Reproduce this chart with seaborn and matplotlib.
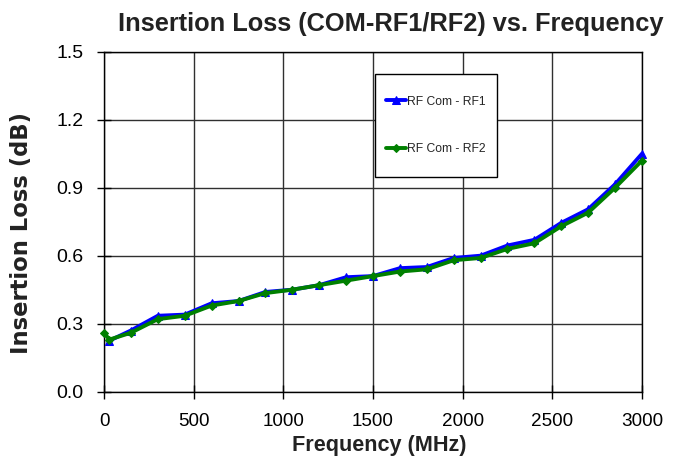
import matplotlib
matplotlib.use("Agg")
import matplotlib.pyplot as plt
from matplotlib.patches import Rectangle
import seaborn as sns
import pandas as pd

freq_rf1 = [30, 150, 300, 450, 600, 750, 900, 1050, 1200, 1350, 1500,
            1650, 1800, 1950, 2100, 2250, 2400, 2550, 2700, 2850, 3000]
loss_rf1 = [0.225, 0.27, 0.335, 0.34, 0.39, 0.40, 0.44, 0.45, 0.47, 0.505, 0.51,
            0.545, 0.55, 0.59, 0.60, 0.645, 0.67, 0.745, 0.805, 0.915, 1.05]
freq_rf2 = [0, 30, 150, 300, 450, 600, 750, 900, 1050, 1200, 1350, 1500,
            1650, 1800, 1950, 2100, 2250, 2400, 2550, 2700, 2850, 3000]
loss_rf2 = [0.26, 0.23, 0.26, 0.32, 0.335, 0.38, 0.40, 0.435, 0.45, 0.47, 0.49, 0.51,
            0.53, 0.54, 0.58, 0.59, 0.63, 0.655, 0.73, 0.79, 0.90, 1.02]
series_names = ["RF Com - RF1", "RF Com - RF2"]
x_ticks = [0, 500, 1000, 1500, 2000, 2500, 3000]
y_ticks = [0.0, 0.3, 0.6, 0.9, 1.2, 1.5]

sns.set_theme(style="white")
plt.rcParams["font.family"] = ["Liberation Sans", "DejaVu Sans"]

fig = plt.figure(figsize=(6.83, 4.68), dpi=100)
ax = fig.add_axes([104/683, 1 - 391.7/468, 538/683, 340/468])

df1 = pd.DataFrame({"f": freq_rf1, "v": loss_rf1})
df2 = pd.DataFrame({"f": freq_rf2, "v": loss_rf2})
sns.lineplot(data=df1, x="f", y="v", ax=ax, color="#0000FF", lw=2.8,
             marker="^", markersize=6, markeredgecolor="#0000FF",
             label=series_names[0], sort=False, errorbar=None, clip_on=False, zorder=3)
sns.lineplot(data=df2, x="f", y="v", ax=ax, color="#008000", lw=2.8,
             marker="D", markersize=4.5, markeredgecolor="#008000",
             label=series_names[1], sort=False, errorbar=None, clip_on=False, zorder=4)

ax.set_xlim(0, 3000)
ax.set_ylim(0, 1.5)
ax.set_xticks(x_ticks)
ax.set_yticks(y_ticks)
ax.set_xticklabels([str(t) for t in x_ticks], fontsize=13.6)
ax.set_yticklabels([f"{t:.1f}" for t in y_ticks], fontsize=14)
ax.grid(True, color="#303030", lw=1.0)
ax.set_axisbelow(True)
for s in ax.spines.values():
    s.set_color("black")
    s.set_linewidth(1.0)
ax.tick_params(axis="both", which="major", direction="inout", length=9.5, width=1,
               color="black", bottom=True, left=True, labelcolor="black")
ax.tick_params(axis="x", pad=10.5)
ax.tick_params(axis="y", pad=10)

ax.set_xlabel("Frequency (MHz)", fontsize=15.6, fontweight="bold", color="#222222")
ax.xaxis.label.set_va("baseline")
ax.xaxis.set_label_coords(0.511, (391.7 - 451) / 340)
ax.set_ylabel("Insertion Loss (dB)", fontsize=16.3, fontweight="bold", color="#222222",
              family=["DejaVu Sans"])
ax.yaxis.set_label_coords(-0.132, 0.468)
fig.text(390.5/683, 1 - 31/468, "Insertion Loss (COM-RF1/RF2) vs. Frequency",
         ha="center", va="baseline", fontsize=18.3, fontweight="bold", color="#222222")

# legend box
ax.add_patch(Rectangle((0.504, 0.631), 0.226, 0.303, transform=ax.transAxes,
                       facecolor="white", edgecolor="black", lw=1.0, zorder=5))
leg = ax.legend(loc="center", bbox_to_anchor=(0.617, 0.783), fontsize=8.7,
                frameon=False, borderpad=0.3, labelspacing=2.95, handlelength=1.65,
                handletextpad=0.05, borderaxespad=0)
leg.set_zorder(6)

fig.savefig("out.png", dpi=100)
